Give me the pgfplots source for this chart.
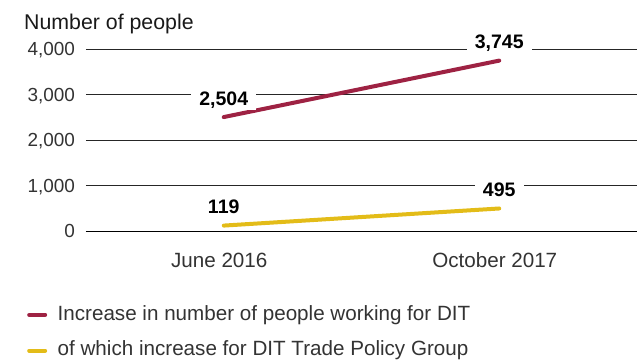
\documentclass[border=0pt]{standalone}
\usepackage{fontspec}
\setmainfont{Liberation Sans}
\usepackage{pgfplots}
\pgfplotsset{compat=1.18}
\definecolor{dred}{HTML}{9E2243}
\definecolor{gold}{HTML}{E3BC18}
\definecolor{txt}{HTML}{333333}
\begin{document}
\begin{tikzpicture}
\path[use as bounding box] (-86bp,-131bp) rectangle (553bp,231bp);
\begin{axis}[
  at={(0,0)}, anchor=south west,
  scale only axis, width=551bp, height=182bp,
  xmin=0, xmax=2, ymin=0, ymax=4000,
  axis x line*=bottom, axis y line*=left,
  x axis line style={-, black, line width=1bp},
  y axis line style={draw=none},
  /pgf/number format/.cd, 1000 sep={,}, assume math mode=true, /pgfplots/.cd,
  scaled y ticks=false,
  ytick={0,1000,2000,3000,4000},
  ytick style={draw=none},
  ymajorgrids, grid style={black!85, line width=0.9bp},
  yticklabel style={font=\fontsize{19}{23}\selectfont, text=txt, anchor=base east, yshift=-6.8bp, xshift=-7.5bp},
  xtick={0.5,1.5}, xticklabels={June 2016, October 2017},
  xtick style={draw=none},
  xticklabel style={font=\fontsize{20.7}{24}\selectfont, text=txt, anchor=base, yshift=-36bp, xshift=-4.5bp},
  extra x ticks={0,1,2}, extra x tick labels={},
  extra x tick style={tick align=outside, major tick length=7bp, tick style={draw=black, line width=1bp}},
  nodes near coords,
  every node near coord/.append style={font=\fontsize{19.6}{24}\selectfont\bfseries, text=black, fill=white, inner xsep=8bp, inner ysep=2bp, anchor=base, yshift=12bp},
  legend style={draw=none, fill=none, at={(-0.1071,-0.407)}, anchor=north west, inner sep=0pt,
    font=\fontsize{20.7}{24}\selectfont, text=txt, row sep=16.7bp, column sep=10.5bp,
    nodes={inner sep=0pt, text height=14.8bp, text depth=4.3bp}},
  legend cell align=left,
  legend image code/.code={\draw[#1, line width=4bp] (2bp,0bp) -- (18bp,0bp);},
]
\addplot[dred, line width=4bp, line cap=round] coordinates {(0.5,2504) (1.5,3745)};
\addlegendentry{Increase in number of people working for DIT}
\addplot[gold, line width=4bp, line cap=round] coordinates {(0.5,119) (1.5,495)};
\addlegendentry{of which increase for DIT Trade Policy Group}
\end{axis}
\node[anchor=base west, inner sep=0pt, font=\fontsize{21.4}{25}\selectfont, text=black!90] at (-62bp,201.7bp) {Number of people};
\end{tikzpicture}
\end{document}
